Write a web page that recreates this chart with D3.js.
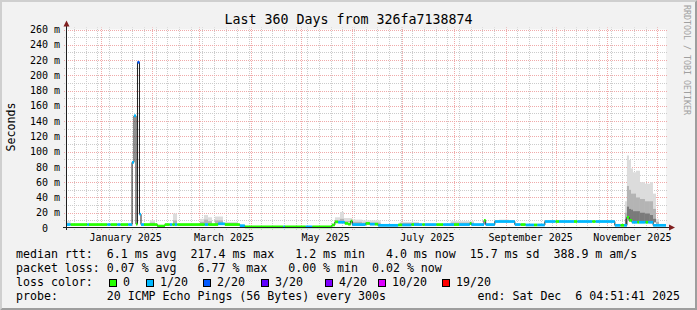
<!DOCTYPE html>
<html>
<head>
<meta charset="utf-8">
<script src="https://cdn.jsdelivr.net/npm/d3@7"></script>
<style>
  body { margin: 0; background: #f2f2f2; }
  text { font-family: "DejaVu Sans Mono", monospace; white-space: pre; }
</style>
</head>
<body>
<div id="chart"></div>
<script>
// --- data ---
const graphTitle = "Last 360 Days from 326fa7138874";
const startTime = "2024-12-11T04:51";
const endTime = "2025-12-06T04:51";

// median rtt segments (start, median in ms, lost pings out of 20)
const segStart = [
  "2024-12-11T04:51", "2024-12-14", "2024-12-24", "2024-12-25", "2025-01-05", "2025-01-07",
  "2025-01-11", "2025-01-13", "2025-01-17T12:00", "2025-01-19T20:00", "2025-01-21T00:00",
  "2025-01-22T05:00", "2025-01-23T02:00", "2025-01-24T07:00", "2025-01-25T05:00", "2025-01-27",
  "2025-02-04", "2025-02-08T12:00", "2025-02-11T12:00", "2025-02-13", "2025-02-14T12:00",
  "2025-02-16", "2025-03-04T12:00", "2025-03-06T12:00", "2025-03-12T12:00", "2025-03-16T12:00",
  "2025-03-25T12:00", "2025-03-28T12:00", "2025-04-20T12:00", "2025-04-21T12:00", "2025-05-04",
  "2025-05-08", "2025-05-19T18:00", "2025-05-21T12:00", "2025-05-23T12:00", "2025-05-27T12:00",
  "2025-05-29T12:00", "2025-05-31", "2025-06-01", "2025-06-09", "2025-06-11T12:00",
  "2025-06-14T12:00", "2025-06-16T12:00", "2025-06-28T12:00", "2025-07-01", "2025-07-06T12:00",
  "2025-07-08", "2025-07-13", "2025-07-14T12:00", "2025-07-21T12:00", "2025-07-25T12:00",
  "2025-08-01", "2025-08-04", "2025-08-10T12:00", "2025-08-11T12:00", "2025-08-19",
  "2025-08-20", "2025-08-25T12:00", "2025-09-06T12:00", "2025-09-10", "2025-09-13",
  "2025-09-18", "2025-09-20", "2025-09-24T12:00", "2025-10-01", "2025-10-03", "2025-10-12",
  "2025-10-14", "2025-10-23", "2025-10-25", "2025-11-05T12:00", "2025-11-09", "2025-11-11",
  "2025-11-12T18:00", "2025-11-14", "2025-11-15T18:00", "2025-11-19", "2025-11-20",
  "2025-11-24", "2025-11-25T12:00", "2025-11-28T12:00"
];
const segMedian = [
  4.5, 4.5, 4.5, 4.5, 4.5, 4.5,
  4.5, 4.5, 4.5, 86, 147,
  5, 217, 18, 4.5, 4.5,
  2.5, 4.5, 4.5, 4.5, 4.5,
  4.5, 4.5, 4.5, 5.5, 4.5,
  3, 1.5, 1.5, 1.5, 1.5,
  1.5, 4, 8, 7.5, 6,
  5, 9, 4.5, 6, 5,
  5, 3.5, 4, 4, 4.5,
  4.5, 4.5, 4.5, 4.5, 4.5,
  4.5, 4.5, 6, 4.5, 10,
  4.5, 8.5, 4.5, 4.5, 4,
  4, 4, 8.5, 8.5, 8.5, 8.5,
  8.5, 8.5, 8.5, 3.5, 3.5, 3.5,
  14, 10, 7.5, 7.5, 7.5,
  7.5, 7.5, 3.5
];
const segLoss = [
  1, 0, 1, 0, 1, 0,
  1, 0, 1, 1, 1,
  0, 2, 1, 1, 0,
  0, 0, 1, 0, 1,
  0, 1, 0, 1, 0,
  1, 0, 1, 0, 1,
  0, 0, 0, 1, 0,
  0, 0, 1, 0, 1,
  0, 1, 0, 1, 0,
  1, 0, 1, 0, 1,
  0, 1, 0, 1, 0,
  1, 1, 1, 0, 1,
  0, 1, 1, 0, 1, 0,
  1, 0, 1, 1, 0, 1,
  0, 0, 1, 0, 1,
  0, 1, 1
];

// smoke (ping spread) blocks: from, to, max / upper / inner ping in ms
const smokeFrom = [
  "2024-12-11T04:51", "2025-01-30T12:00", "2025-02-13T10:00", "2025-03-01T14:00", "2025-03-04",
  "2025-03-06T10:00", "2025-03-10T14:00", "2025-03-16T14:00", "2025-05-21T14:00", "2025-05-24T14:00",
  "2025-05-27", "2025-06-01", "2025-06-07", "2025-06-29T10:00", "2025-07-30", "2025-08-28",
  "2025-11-11T14:00", "2025-11-12T18:00", "2025-11-14", "2025-11-15T05:00", "2025-11-16T10:00",
  "2025-11-18T05:00", "2025-11-20T14:00", "2025-11-23T14:00", "2025-11-26T14:00", "2025-11-28T10:00",
  "2025-11-30T05:00"
];
const smokeTo = [
  "2024-12-14", "2025-02-02T14:00", "2025-02-15T20:00", "2025-03-04", "2025-03-06T10:00",
  "2025-03-08T19:00", "2025-03-15T10:00", "2025-03-24T10:00", "2025-05-24T14:00", "2025-05-27",
  "2025-06-01", "2025-06-07", "2025-06-18", "2025-07-11", "2025-08-13", "2025-09-03",
  "2025-11-12T18:00", "2025-11-14", "2025-11-15T05:00", "2025-11-16T10:00", "2025-11-18T05:00",
  "2025-11-20T14:00", "2025-11-23T14:00", "2025-11-26T14:00", "2025-11-28T10:00", "2025-11-30T05:00",
  "2025-12-02"
];
const smokeMax   = [9, 10, 19, 12, 17, 14, 15, 8, 14, 21, 13, 11, 10, 8, 9, 11, 35, 95, 89, 78, 73, 75, 60, 58, 60, 45, 12];
const smokeUpper = [6, 7, 10, 8, 11, 9, 10, 6.5, 10, 12, 9, 8, 7, 6.5, 7, 9.5, 20, 55, 50, 45, 45, 40, 38, 35, 35, 25, 8];
const smokeInner = [0, 0, 0, 0, 0, 0, 0, 0, 0, 0, 0, 0, 0, 0, 0, 0, 12, 28, 25, 24, 22, 22, 20, 19, 17, 12, 0];

// loss colour legend
const lossLevels = [0, 1, 2, 3, 4, 10, 19];
const lossLabels = ["0", "1/20", "2/20", "3/20", "4/20", "10/20", "19/20"];
const lossColors = ["#26ff00", "#00b8ff", "#0059ff", "#5e00ff", "#7e00ff", "#dd00ff", "#ff0000"];

// legend text
const rttLine = "median rtt:  6.1 ms avg  217.4 ms max   1.2 ms min   4.0 ms now  15.7 ms sd  388.9 m am/s";
const lossLine = "packet loss: 0.07 % avg   6.77 % max   0.00 % min  0.02 % now";
const probeLine = "probe:       20 ICMP Echo Pings (56 Bytes) every 300s";
const endText = "end: Sat Dec  6 04:51:41 2025";

// --- drawing ---
const W = 697, H = 310;
const plotL = 66, plotR = 666, plotT = 29.5, plotB = 228;
const bandMs = 1.8;

const p1 = d3.timeParse("%Y-%m-%dT%H:%M"), p2 = d3.timeParse("%Y-%m-%d");
const parseT = s => p1(s) || p2(s);
const t0 = parseT(startTime), t1 = parseT(endTime);

const x = d3.scaleTime().domain([t0, t1]).range([plotL, plotR]);
const y = d3.scaleLinear().domain([0, 260]).range([plotB, plotT]);
const px = v => Math.round(v) + 0.5;

const svg = d3.select("#chart").append("svg")
  .attr("width", W).attr("height", H);

svg.append("rect").attr("width", W).attr("height", H).attr("fill", "#f2f2f2");
// frame
svg.append("path").attr("d", "M0,0H697L695,2H2V308L0,310Z").attr("fill", "#cfcfcf");
svg.append("path").attr("d", "M697,0V310H0L2,308H695V2Z").attr("fill", "#9e9e9e");

svg.append("rect")
  .attr("x", plotL).attr("y", y(260))
  .attr("width", plotR - plotL).attr("height", plotB - y(260))
  .attr("fill", "#ffffff");

// grid
const grid = svg.append("g").attr("stroke-dasharray", "1,1").attr("stroke-width", 1);
d3.timeMonday.range(t0, t1).forEach(d => {
  grid.append("line").attr("x1", px(x(d))).attr("x2", px(x(d)))
    .attr("y1", plotB + 2).attr("y2", y(260) - 2).attr("stroke", "#cccccc");
});
d3.range(10, 260, 20).forEach(v => {
  grid.append("line").attr("x1", plotL - 2).attr("x2", plotR + 2)
    .attr("y1", px(y(v))).attr("y2", px(y(v))).attr("stroke", "#cccccc");
});
d3.timeMonth.range(t0, t1).forEach(d => {
  grid.append("line").attr("x1", px(x(d))).attr("x2", px(x(d)))
    .attr("y1", plotB + 2).attr("y2", y(260) - 2).attr("stroke", "#f0aaaa");
});
d3.range(20, 261, 20).forEach(v => {
  grid.append("line").attr("x1", plotL - 2).attr("x2", plotR + 2)
    .attr("y1", px(y(v))).attr("y2", px(y(v))).attr("stroke", "#f0aaaa");
});

// segments
const segs = segStart.map((s, i) => ({
  a: parseT(s),
  b: i + 1 < segStart.length ? parseT(segStart[i + 1]) : t1,
  m: segMedian[i],
  loss: segLoss[i]
}));
const medianAt = t => {
  const i = d3.bisector(d => d.a).right(segs, t) - 1;
  return segs[Math.max(0, i)].m;
};

// smoke
const shades = ["#dcdcdc", "#b4b4b4", "#7a7a7a"];
const smoke = svg.append("g");
smokeFrom.forEach((s, i) => {
  const a = parseT(s), b = parseT(smokeTo[i]);
  const base = medianAt(a);
  [smokeMax[i], smokeUpper[i], smokeInner[i]].forEach((v, k) => {
    if (v <= base) return;
    smoke.append("rect")
      .attr("x", x(a)).attr("width", x(b) - x(a))
      .attr("y", y(v)).attr("height", y(base) - y(v))
      .attr("fill", shades[k]);
  });
});

// median line
const pts = segs.map(d => [x(d.a), y(d.m)]);
pts.push([x(t1), y(segs[segs.length - 1].m)]);
svg.append("path")
  .attr("d", d3.line().curve(d3.curveStepAfter)(pts))
  .attr("fill", "none").attr("stroke", "#202020").attr("stroke-width", 1);

// loss coloured median band
svg.append("g").selectAll("rect").data(segs).join("rect")
  .attr("x", d => x(d.a)).attr("width", d => x(d.b) - x(d.a))
  .attr("y", d => y(d.m + bandMs)).attr("height", d => y(d.m - bandMs) - y(d.m + bandMs))
  .attr("fill", d => lossColors[lossLevels.indexOf(d.loss)]);

// axes
svg.append("line").attr("x1", plotL - 3).attr("x2", plotR + 6)
  .attr("y1", plotB - 0.5).attr("y2", plotB - 0.5).attr("stroke", "#1f1f1f");
svg.append("line").attr("x1", plotL + 0.5).attr("x2", plotL + 0.5)
  .attr("y1", plotB + 2).attr("y2", y(260) - 5).attr("stroke", "#1f1f1f");
svg.append("path").attr("fill", "#801f1f")
  .attr("d", `M${plotR + 3},${plotB - 3.5}L${plotR + 9},${plotB - 0.5}L${plotR + 3},${plotB + 2.5}Z`);
svg.append("path").attr("fill", "#801f1f")
  .attr("d", `M${plotL - 2.5},${y(260) - 3}L${plotL + 0.5},${y(260) - 9}L${plotL + 3.5},${y(260) - 3}Z`);

// y labels
d3.range(0, 261, 20).forEach(v => {
  svg.append("text")
    .attr("x", 60).attr("y", y(v) + 3.6)
    .attr("text-anchor", "end").attr("font-size", 10)
    .attr("xml:space", "preserve")
    .text(v === 0 ? "  0  " : String(v).padStart(3, " ") + " m");
});

// x labels
d3.timeMonth.range(t0, t1).filter(d => d.getMonth() % 2 === 0).forEach(d => {
  svg.append("text")
    .attr("x", x(d3.timeDay.offset(d, 15))).attr("y", 241)
    .attr("text-anchor", "middle").attr("font-size", 10)
    .text(d3.timeFormat("%B %Y")(d));
});

// titles
svg.append("text").attr("x", 348.5).attr("y", 24)
  .attr("text-anchor", "middle").attr("font-size", 13.3).text(graphTitle);
svg.append("text").attr("transform", "translate(15,127) rotate(-90)")
  .attr("text-anchor", "middle").attr("font-size", 11.6).text("Seconds");
svg.append("text").attr("transform", "translate(684,5) rotate(90)")
  .attr("font-size", 8.3).attr("fill", "#a0a0a0").text("RRDTOOL / TOBI OETIKER");

// legend
const fs = 11.6;
const leg = (tx, lx, ly) => svg.append("text").attr("x", lx).attr("y", ly)
  .attr("font-size", fs).attr("xml:space", "preserve").text(tx);

leg(rttLine, 16, 258);
leg(lossLine, 16, 272);
leg("loss color:", 16, 286);
[109, 146, 203, 261, 325, 378, 442].forEach((lx, i) => {
  svg.append("rect").attr("x", lx + 0.5).attr("y", 279.5).attr("width", 7).attr("height", 7)
    .attr("fill", lossColors[i]).attr("stroke", "#000").attr("stroke-width", 1);
  leg(lossLabels[i], lx + 14, 286);
});
leg(probeLine, 16, 300);
svg.append("text").attr("x", 680).attr("y", 300).attr("text-anchor", "end")
  .attr("font-size", fs).attr("xml:space", "preserve").text(endText);
</script>
</body>
</html>
